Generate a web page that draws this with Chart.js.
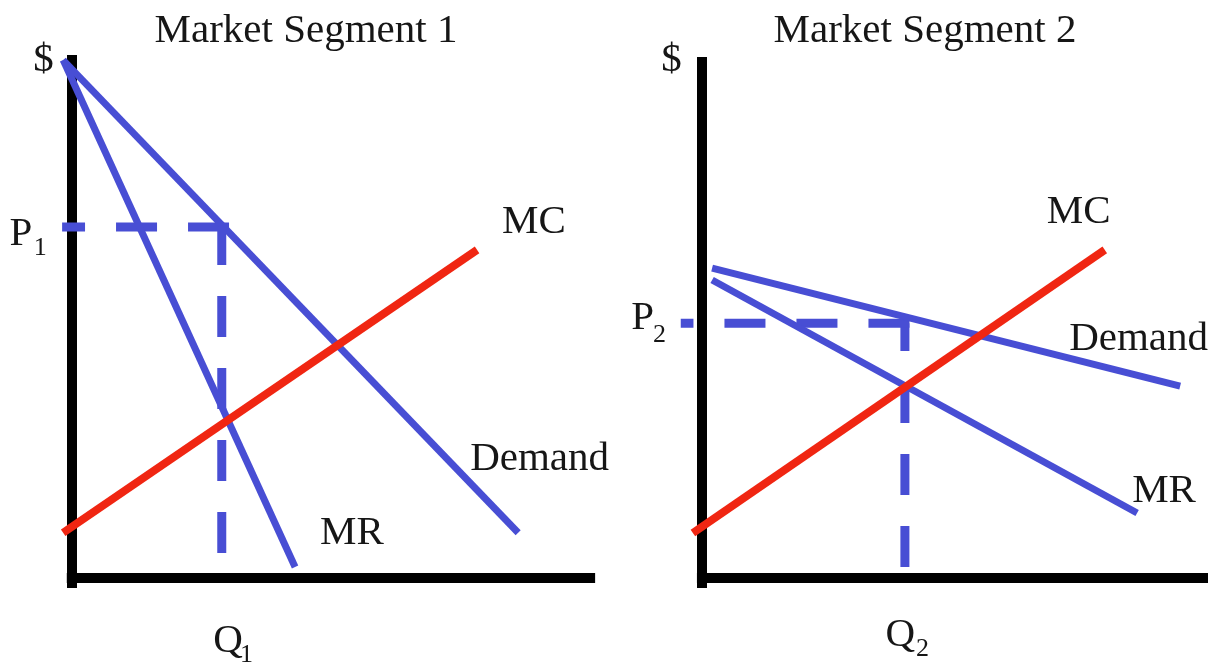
<!DOCTYPE html>
<html>
<head>
<meta charset="utf-8">
<script src="https://cdn.jsdelivr.net/npm/chart.js@4.4.1/dist/chart.umd.min.js"></script>
<style>
  html, body { margin: 0; padding: 0; background: #ffffff; }
  #wrap { position: relative; width: 1208px; height: 662px; overflow: hidden; background: #ffffff; }
  #c1 { position: absolute; left: 0; top: 0; }
  #c2 { position: absolute; left: 620px; top: 0; }
</style>
</head>
<body>
<div id="wrap">
  <canvas id="c1" width="620" height="662"></canvas>
  <canvas id="c2" width="588" height="662"></canvas>
</div>
<script>
// ---------- Market Segment 1 (quantity 0..100, price 0..100) ----------
const seg1Title = "Market Segment 1";
const seg1Demand = [{x: -1.7, y: 99.6}, {x: 85.8, y: 8.7}];
const seg1MR     = [{x: -1.7, y: 99.6}, {x: 42.9, y: 2.1}];
const seg1MC     = [{x: -1.7, y: 8.7},  {x: 77.9, y: 63.1}];
const seg1Price  = 67.5;   // P1
const seg1Qty    = 28.8;   // Q1
const seg1PriceGuide = [{x: 30.2, y: seg1Price}, {x: -1.9, y: seg1Price}];
const seg1QtyGuide   = [{x: seg1Qty, y: 4.8}, {x: seg1Qty, y: seg1Price}];
const seg1YAxis = [{x: 0, y: -1.9}, {x: 0, y: 100.6}];
const seg1XAxis = [{x: -1.0, y: 0}, {x: 100.6, y: 0}];

// ---------- Market Segment 2 ----------
const seg2Title = "Market Segment 2";
const seg2Demand = [{x: 2.0, y: 59.6}, {x: 94.5, y: 36.9}];
const seg2MR     = [{x: 2.0, y: 57.3}, {x: 86.0, y: 12.5}];
const seg2MC     = [{x: -1.8, y: 8.65}, {x: 79.6, y: 63.1}];
const seg2Price  = 49.0;   // P2
const seg2Qty    = 40.1;   // Q2
const seg2PriceGuide = [{x: 41.0, y: seg2Price}, {x: -4.2, y: seg2Price}];
const seg2QtyGuide   = [{x: seg2Qty, y: 2.1}, {x: seg2Qty, y: seg2Price}];
const seg2YAxis = [{x: 0, y: -1.9}, {x: 0, y: 100.2}];
const seg2XAxis = [{x: -1.0, y: 0}, {x: 100, y: 0}];

// ---------- styles ----------
const BLUE = "rgb(72,78,212)";
const RED = "rgb(240,38,18)";
const BLACK = "#000000";
const TEXT = "#161616";
const FONT = "'Liberation Serif', 'Times New Roman', Times, serif";

const textPlugin = {
  id: "panelText",
  afterDraw(chart, args, o) {
    const ctx = chart.ctx, xs = chart.scales.x, ys = chart.scales.y;
    ctx.save();
    ctx.fillStyle = TEXT;
    ctx.textBaseline = "alphabetic";
    ctx.font = `${o.size}px ${FONT}`;
    ctx.textAlign = "center";
    ctx.fillText(o.title, o.titleX, o.titleY);
    for (const l of o.labels) {
      const px = xs.getPixelForValue(l.at.x) + l.dx;
      const py = ys.getPixelForValue(l.at.y) + l.dy;
      ctx.font = `${o.size}px ${FONT}`;
      ctx.textAlign = l.align || "left";
      ctx.fillText(l.text, px, py);
      if (l.sub) {
        const w = ctx.measureText(l.text).width;
        ctx.font = `${o.subSize}px ${FONT}`;
        ctx.textAlign = "left";
        ctx.fillText(l.sub, px + w + l.subDx, py + l.subDy);
      }
    }
    ctx.restore();
  }
};

function line(data, color, width, dash) {
  return {
    data, showLine: true, borderColor: color, backgroundColor: color,
    borderWidth: width, borderDash: dash || [], borderCapStyle: "butt",
    pointRadius: 0, pointHoverRadius: 0, tension: 0, clip: false, fill: false
  };
}

function makePanel(id, d, pad, xMax, text) {
  return new Chart(document.getElementById(id), {
    type: "scatter",
    data: {
      datasets: [
        line(d.mc, RED, 8),
        line(d.demand, BLUE, 7),
        line(d.mr, BLUE, 7),
        line(d.priceGuide, BLUE, 9, [41, 31]),
        line(d.qtyGuide, BLUE, 9, [41, 31]),
        line(d.yAxis, BLACK, 10),
        line(d.xAxis, BLACK, 10)
      ]
    },
    options: {
      responsive: false,
      animation: false,
      events: [],
      layout: { padding: pad },
      scales: {
        x: { type: "linear", min: 0, max: xMax, display: false },
        y: { type: "linear", min: 0, max: 100, display: false }
      },
      plugins: {
        legend: { display: false },
        tooltip: { enabled: false },
        panelText: text
      }
    },
    plugins: [textPlugin]
  });
}

makePanel("c1", {
  demand: seg1Demand, mr: seg1MR, mc: seg1MC,
  priceGuide: seg1PriceGuide, qtyGuide: seg1QtyGuide,
  yAxis: seg1YAxis, xAxis: seg1XAxis
}, {left: 72, right: 28, top: 58, bottom: 84}, 100, {
  title: seg1Title, titleX: 306, titleY: 42, size: 41, subSize: 26,
  labels: [
    {text: "$", at: {x: 0, y: 100}, dx: -28.5, dy: 13, align: "center"},
    {text: "P", sub: "1", at: {x: 0, y: seg1Price}, dx: -62.5, dy: 18, subDx: 1.5, subDy: 10},
    {text: "Q", sub: "1", at: {x: seg1Qty, y: 0}, dx: -8.4, dy: 74, subDx: -3, subDy: 10},
    {text: "MC", at: seg1MC[1], dx: 25, dy: -17},
    {text: "Demand", at: seg1Demand[1], dx: -48, dy: -63},
    {text: "MR", at: seg1MR[1], dx: 25, dy: -23}
  ]
});

makePanel("c2", {
  demand: seg2Demand, mr: seg2MR, mc: seg2MC,
  priceGuide: seg2PriceGuide, qtyGuide: seg2QtyGuide,
  yAxis: seg2YAxis, xAxis: seg2XAxis
}, {left: 82, right: 0, top: 58, bottom: 84}, 100, {
  title: seg2Title, titleX: 305, titleY: 42, size: 41, subSize: 26,
  labels: [
    {text: "$", at: {x: 0, y: 100}, dx: -30.5, dy: 13, align: "center"},
    {text: "P", sub: "2", at: {x: 0, y: seg2Price}, dx: -70.7, dy: 6, subDx: -1, subDy: 13},
    {text: "Q", sub: "2", at: {x: seg2Qty, y: 0}, dx: -19.4, dy: 68, subDx: 1, subDy: 10},
    {text: "MC", at: seg2MC[1], dx: -58, dy: -27},
    {text: "Demand", at: seg2Demand[1], dx: -111, dy: -36},
    {text: "MR", at: seg2MR[1], dx: -5, dy: -11}
  ]
});
</script>
</body>
</html>
